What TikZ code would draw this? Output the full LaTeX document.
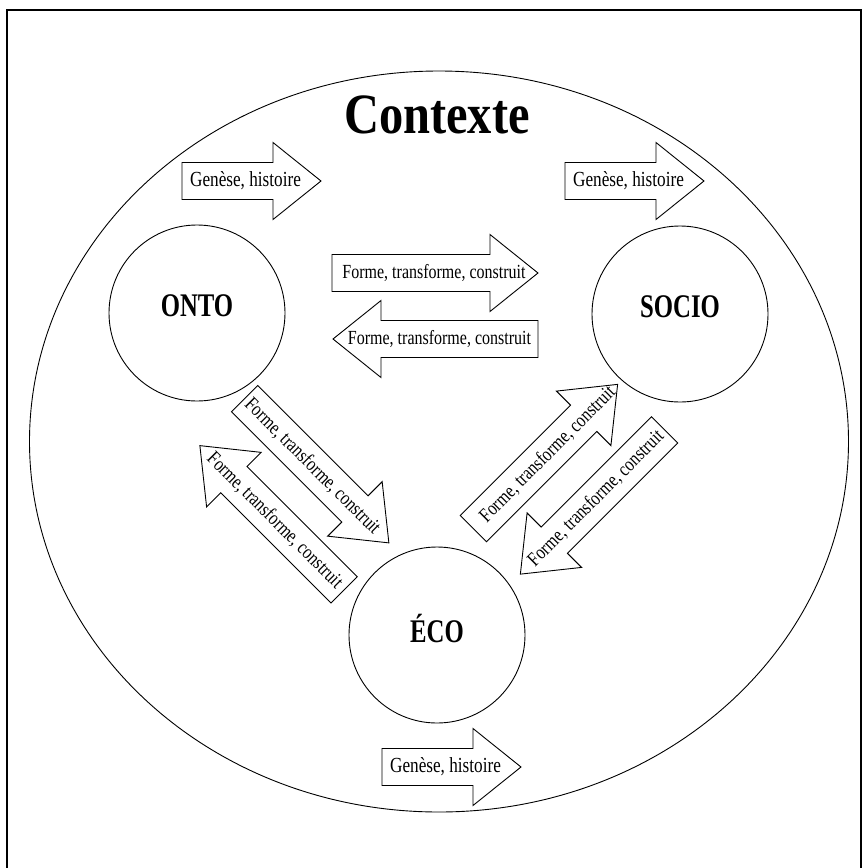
\documentclass[tikz,border=0pt]{standalone}
\usepackage{fontspec}
\setmainfont{Liberation Serif}
\newfontfamily\arrowfont{Liberation Serif}[FakeStretch=0.8]
\newfontfamily\polefont{Liberation Serif}[FakeStretch=0.75]
\newfontfamily\titlefont{Liberation Serif}[FakeStretch=0.85]
\usetikzlibrary{shapes.geometric}

\begin{document}
\begin{tikzpicture}[
    x=1pt, y=-1pt,
    every path/.style={line width=0.9pt},
    pole/.style={draw, circle, minimum size=176pt, inner sep=0pt, text depth=14pt,
                 font=\polefont\bfseries\fontsize{33}{36}\selectfont},
    atext/.style={inner sep=0pt, font=\arrowfont\fontsize{20}{24}\selectfont},
    gen/.style={font=\arrowfont\fontsize{21.5}{24}\selectfont},
    pics/blockarrow/.style n args={4}{code={
        % shaft 37 wide, head 77 wide and 48 long
        \draw (-#1/2,-18.5) -- (#1/2-48,-18.5) -- (#1/2-48,-38.5) -- (#1/2,0)
              -- (#1/2-48,38.5) -- (#1/2-48,18.5) -- (-#1/2,18.5) -- cycle;
        \node[atext, #3] (-txt) at (#2,0) {#4};
    }}
]
\useasboundingbox (0,0) rectangle (864,868);
\draw[line width=1.2pt] (7,868) -- (7,10) -- (861,10) -- (861,868);

% context
\node[draw, ellipse, minimum width=819pt, minimum height=741pt, inner sep=0pt] (ctx) at (439,441.5) {};
\node[anchor=base, inner sep=0pt, font=\titlefont\bfseries\fontsize{57}{60}\selectfont] (ctxlabel) at (437,133) {Contexte};

% poles
\node[pole] (onto) at (197,313) {ONTO};
\node[pole] (socio) at (680,314) {SOCIO};
\node[pole] (eco) at (437,635) {ÉCO};

% genese arrows
\pic (g1) at (251.5,181) {blockarrow={139}{-6}{gen}{Genèse, histoire}};
\pic (g2) at (634.5,181) {blockarrow={139}{-6}{gen}{Genèse, histoire}};
\pic (g3) at (451.5,767) {blockarrow={139}{-6}{gen}{Genèse, histoire}};

% exchanges between poles
\pic (os) at (435,273) {blockarrow={206}{-1}{}{Forme, transforme, construit}};
\pic[rotate=180] (so) at (435.5,339) {blockarrow={205}{-4}{}{Forme, transforme, construit}};
\pic[rotate=-45] (oe) at (316.75,470.75) {blockarrow={204}{-6}{rotate=-45}{Forme, transforme, construit}};
\pic[rotate=135] (eo) at (272,517.75) {blockarrow={204}{-4}{rotate=-45}{Forme, transforme, construit}};
\pic[rotate=45] (es) at (545.5,456.5) {blockarrow={204}{3}{rotate=45}{Forme, transforme, construit}};
\pic[rotate=-135] (se) at (592.5,502) {blockarrow={204}{-5}{rotate=45}{Forme, transforme, construit}};
\end{tikzpicture}
\end{document}
